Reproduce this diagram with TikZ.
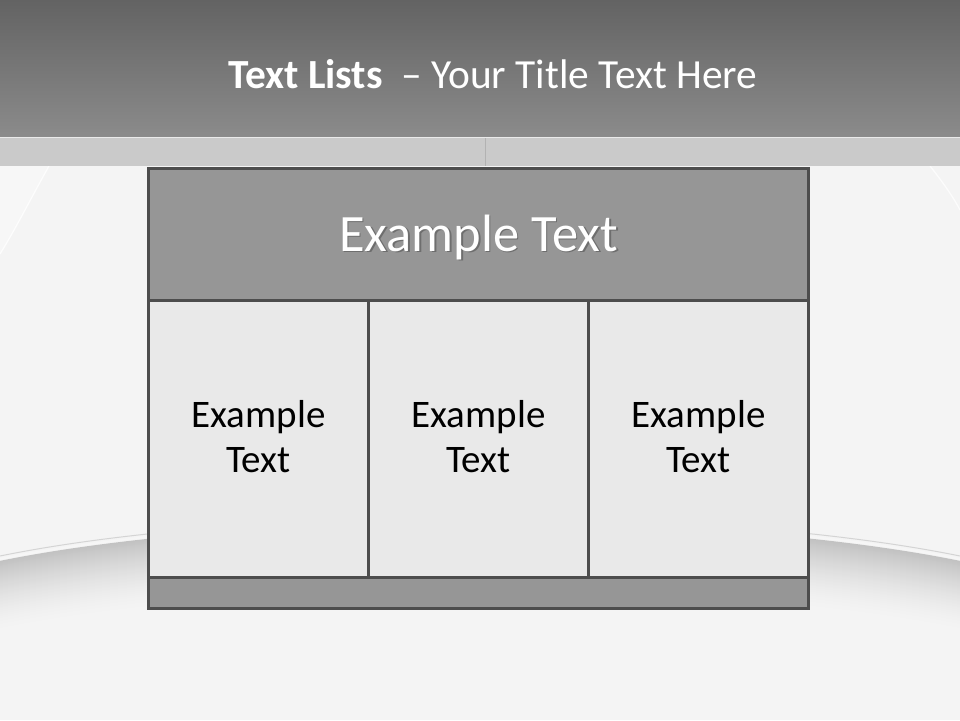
\documentclass[tikz,border=0pt]{standalone}
\usepackage{fontspec}
\setmainfont{Carlito}
\definecolor{titletop}{HTML}{636363}
\definecolor{titlebot}{HTML}{8B8B8B}
\definecolor{bandcol}{HTML}{CACACA}
\definecolor{bgcol}{HTML}{F4F4F4}
\definecolor{shadecol}{HTML}{C2C2C2}
\definecolor{tblborder}{HTML}{4D4D4D}
\definecolor{hdrfill}{HTML}{969696}
\definecolor{cellfill}{HTML}{E9E9E9}
\definecolor{hdrshadowcol}{HTML}{6E6E6E}
\newcommand{\shadowtext}[1]{\rlap{\hspace{1.8pt}\raisebox{-1.8pt}{\textcolor{hdrshadowcol}{#1}}}#1}
\begin{document}
\begin{tikzpicture}[x=1pt,y=-1pt,
  boxbase/.style={draw=tblborder,line width=3pt,inner sep=0pt,outer sep=0pt},
  hdrbox/.style={boxbase,fill=hdrfill,minimum width=660pt,minimum height=132pt},
  cellbox/.style={boxbase,fill=cellfill,minimum width=220pt,minimum height=277pt},
  footbox/.style={boxbase,fill=hdrfill,minimum width=660pt,minimum height=31pt},
  celltext/.style={anchor=base,inner sep=0pt,text=black,font=\fontsize{39}{45}\selectfont},
  hdrtext/.style={anchor=base,inner sep=0pt,text=white,font=\fontsize{52.5}{60}\selectfont},
  titletext/.style={anchor=base west,inner sep=0pt,text=white,font=\fontsize{41.4}{50}\selectfont}
]
\useasboundingbox (0,0) rectangle (960,720);
% background
\fill[bgcol] (0,0) rectangle (960,720);
% faint streaks
\fill[white,opacity=0.35] (0,166) -- (49,166) .. controls (30,200) and (15,230) .. (0,254) -- cycle;
\draw[white,line width=1.2pt,opacity=0.8] (49,166) .. controls (30,200) and (15,230) .. (0,254);
\draw[white,line width=1.2pt,opacity=0.8] (930,166) .. controls (945,185) and (955,200) .. (960,210);
% shadow below the wave
\foreach \i in {0,...,70}{
  \pgfmathsetmacro{\p}{100*(1-\i/70)^1.6}
  \draw[line width=2.2pt,color=shadecol!\p!bgcol,yshift=-\i pt-6pt]
    (0,556) .. controls (250,505) and (710,505) .. (960,556);
}
\draw[line width=2pt,color=white!85!shadecol,yshift=-3pt] (0,556) .. controls (250,505) and (710,505) .. (960,556);
\draw[line width=1pt,color=shadecol!70!white] (0,556) .. controls (250,505) and (710,505) .. (960,556);
% title band
\shade[top color=titletop,bottom color=titlebot] (0,0) rectangle (960,137);
\fill[bandcol] (0,137) rectangle (960,166);
\draw[line width=1pt,color=white!60!bandcol] (0,137.5) -- (960,137.5);
\draw[line width=0.8pt,color=bandcol!88!black] (485,138) -- (485,166);
\node[titletext] (title) at (228,88) {\textbf{Text Lists}\ \ –\ Your Title Text Here};
% table
\node[hdrbox] (head) at (478.5,234.5) {};
\node[cellbox] (cellA) at (258.5,439) {};
\node[cellbox] (cellB) at (478.5,439) {};
\node[cellbox] (cellC) at (698.5,439) {};
\node[footbox] (foot) at (478.5,593) {};
% texts
\node[hdrtext] (headtext) at (478.5,251) {\shadowtext{Example Text}};
\node[celltext] (tA1) at (258.5,427) {Example};
\node[celltext] (tA2) at (258.5,472) {Text};
\node[celltext] (tB1) at (478.5,427) {Example};
\node[celltext] (tB2) at (478.5,472) {Text};
\node[celltext] (tC1) at (698.5,427) {Example};
\node[celltext] (tC2) at (698.5,472) {Text};
\end{tikzpicture}
\end{document}
